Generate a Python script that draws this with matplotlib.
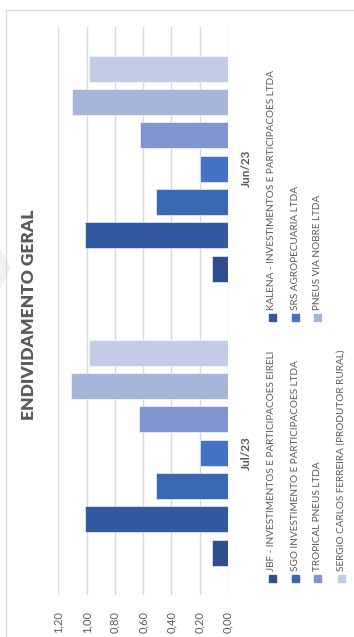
import numpy as np
import matplotlib
matplotlib.use("Agg")
import matplotlib.pyplot as plt
from matplotlib.patches import Rectangle, Polygon
from matplotlib.lines import Line2D

plt.rcParams['font.family'] = ['Lato', 'DejaVu Sans']

# data
months = ['Jul/23', 'Jun/23']
series = [
    'JBF - INVESTIMENTOS E PARTICIPACOES EIRELI',
    'KALENA - INVESTIMENTOS E PARTICIPACOES LTDA',
    'SGO INVESTIMENTO E PARTICIPACOES LTDA',
    'SRS AGROPECUARIA LTDA',
    'TROPICAL PNEUS LTDA',
    'PNEUS VIA NOBRE LTDA',
    'SERGIO CARLOS FERREIRA (PRODUTOR RURAL)',
]
jul = [0.11, 1.01, 0.51, 0.20, 0.63, 1.11, 0.98]
jun = [0.11, 1.01, 0.51, 0.20, 0.62, 1.10, 0.98]
colors = ['#2F4F8C', '#335AA0', '#3B68B5', '#4472C4', '#7F96D0', '#A8B5DB', '#C3CCE6']
ticks = [0.0, 0.2, 0.4, 0.6, 0.8, 1.0, 1.2]

W, H = 354, 637
GRAY = '#595959'


def fx(px):
    return px / W


def fy(py):
    return 1 - py / H


fig = plt.figure(figsize=(W / 100, H / 100), dpi=100)

# chart frame (only top and left edge visible) and faint decoration
fig.add_artist(Line2D([fx(5.5), 1], [fy(10), fy(10)], color='#D9D9D9', lw=1, transform=fig.transFigure))
fig.add_artist(Line2D([fx(5.5), fx(5.5)], [fy(10), 0], color='#D9D9D9', lw=1, transform=fig.transFigure))
fig.add_artist(Polygon([(0, fy(250)), (fx(10), fy(267)), (0, fy(288))], closed=True,
                       color='#F0F0F0', transform=fig.transFigure, zorder=0))

ax = fig.add_axes([fx(58.3), fy(594.7), fx(228) - fx(58.3), (594.7 - 26.7) / H])

bar_h = 0.0915
step = 0.1173
y = np.arange(len(months))
for i, name in enumerate(series):
    vals = [jul[i], jun[i]]
    ax.barh(y + (i - 3) * step, vals, height=bar_h, color=colors[i],
            edgecolor='white', linewidth=0.4, zorder=3)

ax.set_xlim(1.2, 0)
ax.set_ylim(-0.5, 1.5)
ax.set_xticks(ticks)
ax.set_xticklabels([f"{t:.2f}".replace('.', ',') for t in ticks])
ax.tick_params(axis='x', rotation=90, length=0, pad=12, labelsize=8, labelcolor=GRAY)
ax.grid(axis='x', color='#D9D9D9', lw=1, zorder=0)
for s in ax.spines.values():
    s.set_visible(False)

ax.yaxis.tick_right()
ax.set_yticks(y)
ax.set_yticklabels(months, rotation=90, va='center', fontsize=8.5, fontweight='bold', color=GRAY)
ax.tick_params(axis='y', length=0, pad=9)

fig.text(fx(29), fy(315), 'ENDIVIDAMENTO GERAL', rotation=90, ha='center', va='center',
         fontsize=12.5, fontweight='heavy', color=GRAY)

# legend, drawn rotated
rows_x = [272, 295, 317, 341]
col_y = [578, 317]
for k, name in enumerate(series):
    x = rows_x[k // 2]
    yy = col_y[k % 2]
    fig.add_artist(Rectangle((fx(x - 3.5), fy(yy + 3.5)), 7 / W, 7 / H,
                             color=colors[k], transform=fig.transFigure))
    fig.text(fx(x), fy(yy - 7), name, rotation=90, ha='center', va='bottom',
             fontsize=7.2, color=GRAY)

fig.savefig('out.png', dpi=100)
